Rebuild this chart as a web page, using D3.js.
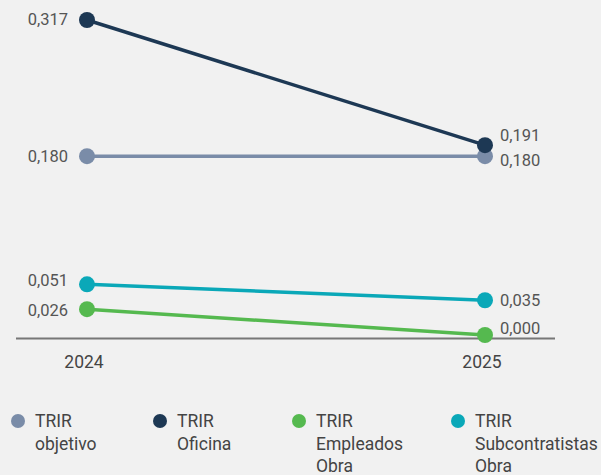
<!DOCTYPE html>
<html>
<head>
<meta charset="utf-8">
<script src="https://cdn.jsdelivr.net/npm/d3@7"></script>
<style>
  body { margin: 0; background: #f1f1f1; }
  svg { display: block; font-family: Roboto, "Noto Sans", sans-serif; }
</style>
</head>
<body>
<div id="chart"></div>
<script>
// data
var years = ["2024", "2025"];
var seriesNames = [["TRIR", "objetivo"], ["TRIR", "Oficina"], ["TRIR", "Empleados", "Obra"], ["TRIR", "Subcontratistas", "Obra"]];
var objetivo = [0.180, 0.180];
var oficina = [0.317, 0.191];
var empleadosObra = [0.026, 0.000];
var subcontratistasObra = [0.051, 0.035];

var colours = ["#7a8ca8", "#1d3854", "#55b94f", "#0aa8b8"];

// label nudges (dy) per series, per year: [left, right]
var labelNudge = [[0, 4], [-1, -10], [1, -7], [-4, 0]];

var width = 601;
var height = 475;

var series = [objetivo, oficina, empleadosObra, subcontratistasObra].map(function(v, i) {
    return { name: seriesNames[i], values: v, colour: colours[i], nudge: labelNudge[i] };
});

var xScale = d3.scalePoint().domain(years).range([87, 485]);
var yScale = d3.scaleLinear().domain([0, 0.317]).range([335, 20]);

var fmt = function(v) { return d3.format(".3f")(v).replace(".", ","); };

var svg = d3.select("#chart")
    .append("svg")
    .attr("width", width)
    .attr("height", height);

svg.append("rect").attr("width", width).attr("height", height).attr("fill", "#f1f1f1");

// x axis baseline
svg.append("line")
    .attr("x1", 16).attr("x2", 555)
    .attr("y1", 338.5).attr("y2", 338.5)
    .attr("stroke", "#777").attr("stroke-width", 2);

svg.selectAll(".year")
    .data(years)
    .enter()
    .append("text")
    .attr("class", "year")
    .attr("x", function(d) { return xScale(d) - 3; })
    .attr("y", 368)
    .attr("text-anchor", "middle")
    .style("font-size", "17.5px")
    .attr("fill", "#444")
    .text(function(d) { return d; });

var lineGen = d3.line()
    .x(function(d, i) { return xScale(years[i]); })
    .y(function(d) { return yScale(d); });

// draw in order so later series sit on top
var drawOrder = [0, 2, 3, 1];
var groups = svg.selectAll(".series")
    .data(drawOrder.map(function(i) { return series[i]; }))
    .enter()
    .append("g")
    .attr("class", "series");

groups.append("path")
    .attr("d", function(d) { return lineGen(d.values); })
    .attr("fill", "none")
    .attr("stroke", function(d) { return d.colour; })
    .attr("stroke-width", 3.5);

groups.selectAll("circle")
    .data(function(d) { return d.values.map(function(v, i) { return { v: v, i: i, colour: d.colour }; }); })
    .enter()
    .append("circle")
    .attr("cx", function(d) { return xScale(years[d.i]); })
    .attr("cy", function(d) { return yScale(d.v); })
    .attr("r", 8)
    .attr("fill", function(d) { return d.colour; });

groups.selectAll(".vlabel")
    .data(function(d) { return d.values.map(function(v, i) { return { v: v, i: i, dy: d.nudge[i] }; }); })
    .enter()
    .append("text")
    .attr("class", "vlabel")
    .attr("x", function(d) { return d.i === 0 ? 68 : 500; })
    .attr("y", function(d) { return yScale(d.v) + d.dy; })
    .attr("dy", "0.35em")
    .attr("text-anchor", function(d) { return d.i === 0 ? "end" : "start"; })
    .style("font-size", "16.5px")
    .attr("fill", "#555")
    .text(function(d) { return fmt(d.v); });

// legend
var legendX = [18, 160, 299, 458];
var legend = svg.selectAll(".legend")
    .data(series)
    .enter()
    .append("g")
    .attr("class", "legend")
    .attr("transform", function(d, i) { return "translate(" + legendX[i] + ",421)"; });

legend.append("circle")
    .attr("r", 7)
    .attr("fill", function(d) { return d.colour; });

legend.append("text")
    .style("font-size", "17.5px")
    .attr("fill", "#444")
    .selectAll("tspan")
    .data(function(d) { return d.name; })
    .enter()
    .append("tspan")
    .attr("x", 17)
    .attr("y", function(d, i) { return i * 22.5; })
    .attr("dy", "0.35em")
    .text(function(d) { return d; });
</script>
</body>
</html>
